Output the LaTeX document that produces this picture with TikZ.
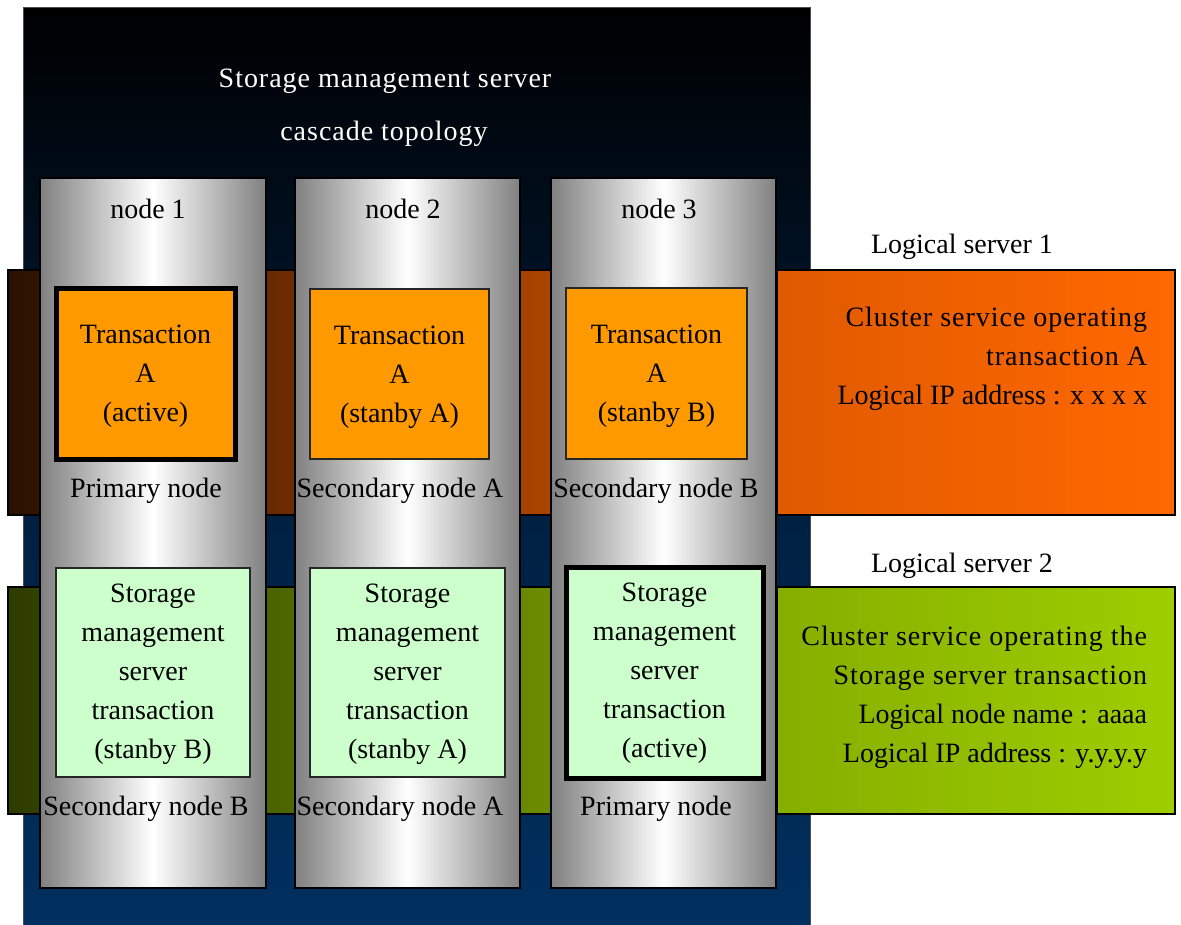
\documentclass[tikz,border=0pt]{standalone}
\usepackage{fontspec}
\setmainfont{Liberation Serif}
\newfontfamily\spacedfont[LetterSpace=3.5]{Liberation Serif}
\definecolor{navyB}{RGB}{0,48,96}
\definecolor{navyM}{RGB}{0,30,62}
\definecolor{orL}{RGB}{43,17,0}
\definecolor{orR}{RGB}{224,90,0}
\definecolor{orBoxR}{RGB}{255,104,0}
\definecolor{grL}{RGB}{45,60,0}
\definecolor{grR}{RGB}{134,174,0}
\definecolor{grBoxR}{RGB}{158,206,0}
\definecolor{txOrange}{RGB}{255,153,0}
\definecolor{txGreen}{RGB}{204,255,204}
\definecolor{colGray}{RGB}{128,128,128}
\begin{document}
\begin{tikzpicture}[x=1pt,y=-1pt,
  every node/.style={inner sep=0pt, outer sep=0pt},
  txt/.style={font=\fontsize{28}{39}\selectfont, align=center},
  stxt/.style={font=\spacedfont\fontsize{28}{39}\selectfont, align=center},
  bandbox/.style={draw=black, line width=1.2pt},
  colbox/.style={draw=black, line width=2pt, left color=colGray, right color=colGray, middle color=white},
  tbox/.style={draw=black!85, line width=1.5pt},
  activebox/.style={draw=black, line width=5pt}
]
\useasboundingbox (0,0) rectangle (1181,924);
% outer server box
\node[draw=black!70, line width=1pt, top color=black, bottom color=navyB, middle color=navyM,
      minimum width=787, minimum height=925] (server) at (416.5,469.5) {};
% bands behind columns
\node[bandbox, left color=orL, right color=orR, minimum width=769, minimum height=245] (band1) at (392.5,392.5) {};
\node[bandbox, left color=grL, right color=grR, minimum width=769, minimum height=227] (band2) at (392.5,700.5) {};
% columns
\node[colbox, minimum width=226, minimum height=710] (col1) at (153,533) {};
\node[colbox, minimum width=225, minimum height=710] (col2) at (407.5,533) {};
\node[colbox, minimum width=225, minimum height=710] (col3) at (663.5,533) {};
% right logical server boxes
\node[bandbox, left color=orR, right color=orBoxR, minimum width=398, minimum height=245] (ls1) at (976,392.5) {};
\node[bandbox, left color=grR, right color=grBoxR, minimum width=398, minimum height=227] (ls2) at (976,700.5) {};
% titles
\node[stxt, text=white] (title) at (385,81) {Storage management server};
\node[stxt, text=white] (cascade) at (384,134) {cascade topology};
\node[txt] (n1) at (148,209) {node 1};
\node[txt] (n2) at (403,209) {node 2};
\node[txt] (n3) at (659,209) {node 3};
% transaction boxes
\node[activebox, fill=txOrange, minimum width=179, minimum height=171] (ta1) at (145.5,373.5) {};
\node[tbox, fill=txOrange, minimum width=179, minimum height=170] (ta2) at (399.5,374) {};
\node[tbox, fill=txOrange, minimum width=181, minimum height=171] (ta3) at (656.5,373.5) {};
\node[txt] (ta1t) at ([yshift=-3]ta1.center) {Transaction\\A\\(active)};
\node[txt] (ta2t) at ([yshift=-3]ta2.center) {Transaction\\A\\(stanby A)};
\node[txt] (ta3t) at ([yshift=-3]ta3.center) {Transaction\\A\\(stanby B)};
% storage boxes
\node[tbox, fill=txGreen, minimum width=194, minimum height=209] (sm1) at (153,672.5) {};
\node[tbox, fill=txGreen, minimum width=195, minimum height=209] (sm2) at (407.5,672.5) {};
\node[activebox, fill=txGreen, minimum width=197, minimum height=211] (sm3) at (664.5,672.5) {};
\node[txt] (sm1t) at ([yshift=-2]sm1.center) {Storage\\management\\server\\transaction\\(stanby B)};
\node[txt] (sm2t) at ([yshift=-2]sm2.center) {Storage\\management\\server\\transaction\\(stanby A)};
\node[txt] (sm3t) at ([yshift=-1]sm3.center) {Storage\\management\\server\\transaction\\(active)};
% role labels
\node[txt] (r1) at (146,491) {Primary node};
\node[txt] (r2) at (400,491) {Secondary node A};
\node[txt] (r3) at (656,491) {Secondary node B};
\node[txt] (r4) at (146,809) {Secondary node B};
\node[txt] (r5) at (400,809) {Secondary node A};
\node[txt] (r6) at (656,809) {Primary node};
% logical server labels
\node[txt] (lab1) at (962,247) {Logical server 1};
\node[txt] (lab2) at (962,566) {Logical server 2};
\node[font=\fontsize{28}{39}\selectfont, align=right, anchor=east] (info1) at (1147,359)
  {{\spacedfont Cluster service operating}\\{\spacedfont transaction A}\\Logical IP address : x x x x};
\node[font=\fontsize{28}{39}\selectfont, align=right, anchor=east] (info2) at (1147,697)
  {{\spacedfont Cluster service operating the}\\{\spacedfont Storage server transaction}\\Logical node name : aaaa\\Logical IP address : y.y.y.y};
\end{tikzpicture}
\end{document}
